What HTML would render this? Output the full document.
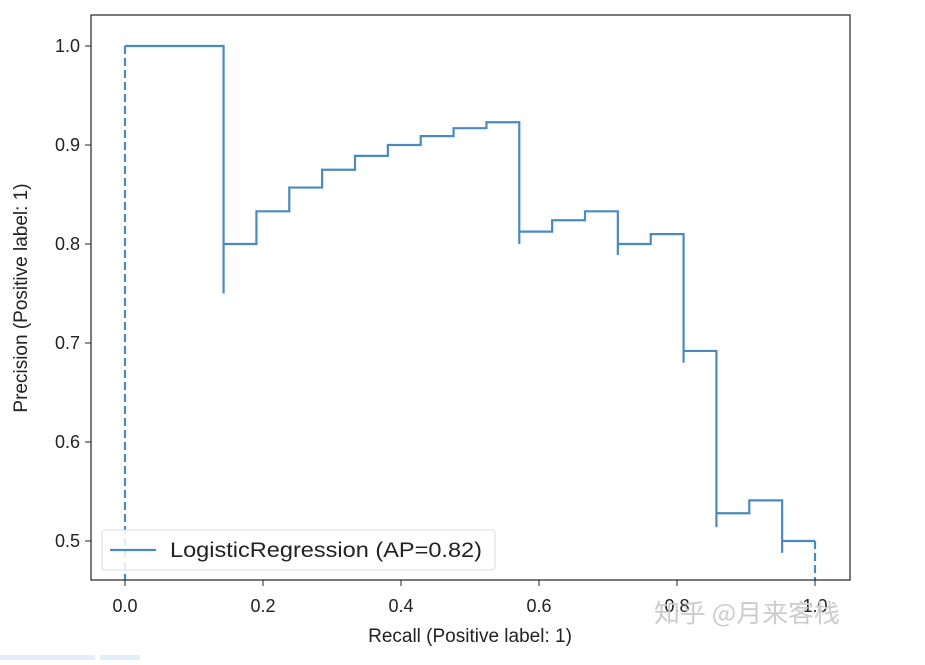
<!DOCTYPE html>
<html><head><meta charset="utf-8"><style>
body{margin:0;background:#fff;}
svg text{font-family:"Liberation Sans","DejaVu Sans",sans-serif;fill:#222;}
</style></head><body>
<svg width="925" height="660" viewBox="0 0 925 660" xmlns="http://www.w3.org/2000/svg">
<rect x="0" y="0" width="925" height="660" fill="#fff"/>
<g id="plot"></g>
<rect x="91" y="15" width="759" height="565" fill="none" stroke="#222" stroke-width="1.2"/>
<g id="xt"></g><g id="yt"></g>
<text x="470" y="642" font-size="19" text-anchor="middle">Recall (Positive label: 1)</text>
<text transform="translate(27,298) rotate(-90)" font-size="19" text-anchor="middle">Precision (Positive label: 1)</text>
<g>
<rect x="102" y="530" width="393" height="40" rx="3" fill="#fff" fill-opacity="0.85" stroke="#ddd"/>
<line x1="110" y1="550" x2="156" y2="550" stroke="#4a8bbf" stroke-width="2.2"/>
<text x="170" y="557" font-size="21" textLength="312" lengthAdjust="spacingAndGlyphs">LogisticRegression (AP=0.82)</text>
</g>
<text x="654" y="622" font-size="25" textLength="186" lengthAdjust="spacingAndGlyphs" style="fill:#ccc;font-family:'Noto Sans CJK SC',sans-serif">知乎 @月来客栈</text>
<rect x="0" y="655" width="95" height="5" fill="#e3eefa"/>
<rect x="100" y="655" width="40" height="5" fill="#e3eefa"/>
</svg>
<script>
const recallNum=[0,3,3,4,5,6,7,8,9,10,11,12,12,13,14,15,15,16,17,17,18,18,19,20,20,21];
const precision=[1,1,0.75,0.8,0.833,0.857,0.875,0.889,0.9,0.909,0.917,0.923,0.8,0.8125,0.824,0.833,0.789,0.8,0.81,0.68,0.692,0.514,0.528,0.541,0.488,0.5];
const xTicks=[0,0.2,0.4,0.6,0.8,1.0];
const yTicks=[0.5,0.6,0.7,0.8,0.9,1.0];
const NS="http://www.w3.org/2000/svg";
const X=v=>125+v*690, Y=v=>541-(v-0.5)*990;
const plot=document.getElementById('plot');
const r=recallNum.map(n=>n/21);
let d='';
for(let i=r.length-1;i>=0;i--){
  if(i===r.length-1){d+=`M${X(r[i])},${Y(precision[i])}`;}
  else{d+=` H${X(r[i])} V${Y(precision[i])}`;}
}
const p=document.createElementNS(NS,'path');
p.setAttribute('d',d);p.setAttribute('fill','none');p.setAttribute('stroke','#4a8bbf');p.setAttribute('stroke-width','2.2');


plot.appendChild(p);
function dash(x,y1,name){const l=document.createElementNS(NS,'line');
l.setAttribute('x1',x);l.setAttribute('x2',x);l.setAttribute('y1',y1);l.setAttribute('y2',580);
l.setAttribute('stroke','#4a8bbf');l.setAttribute('stroke-width','2.2');l.setAttribute('stroke-dasharray','8,4');


plot.appendChild(l);}
dash(X(r[0]),Y(precision[0]),'start-dashed-segment');
dash(X(r[r.length-1]),Y(precision[precision.length-1]),'end-dashed-segment');
const xt=document.getElementById('xt');
xTicks.forEach(v=>{const x=X(v);
 const l=document.createElementNS(NS,'line');l.setAttribute('x1',x);l.setAttribute('x2',x);l.setAttribute('y1',580);l.setAttribute('y2',586);l.setAttribute('stroke','#222');
 
 
 xt.appendChild(l);
 const t=document.createElementNS(NS,'text');t.setAttribute('x',x);t.setAttribute('y',612);t.setAttribute('font-size','18');t.setAttribute('text-anchor','middle');t.textContent=v.toFixed(1);
 
 
 xt.appendChild(t);});
const yt=document.getElementById('yt');
yTicks.forEach(v=>{const y=Y(v);
 const l=document.createElementNS(NS,'line');l.setAttribute('x1',85);l.setAttribute('x2',91);l.setAttribute('y1',y);l.setAttribute('y2',y);l.setAttribute('stroke','#222');
 
 
 yt.appendChild(l);
 const t=document.createElementNS(NS,'text');t.setAttribute('x',80);t.setAttribute('y',y+6);t.setAttribute('font-size','18');t.setAttribute('text-anchor','end');t.textContent=v.toFixed(1);
 
 
 yt.appendChild(t);});
</script>
</body></html>
